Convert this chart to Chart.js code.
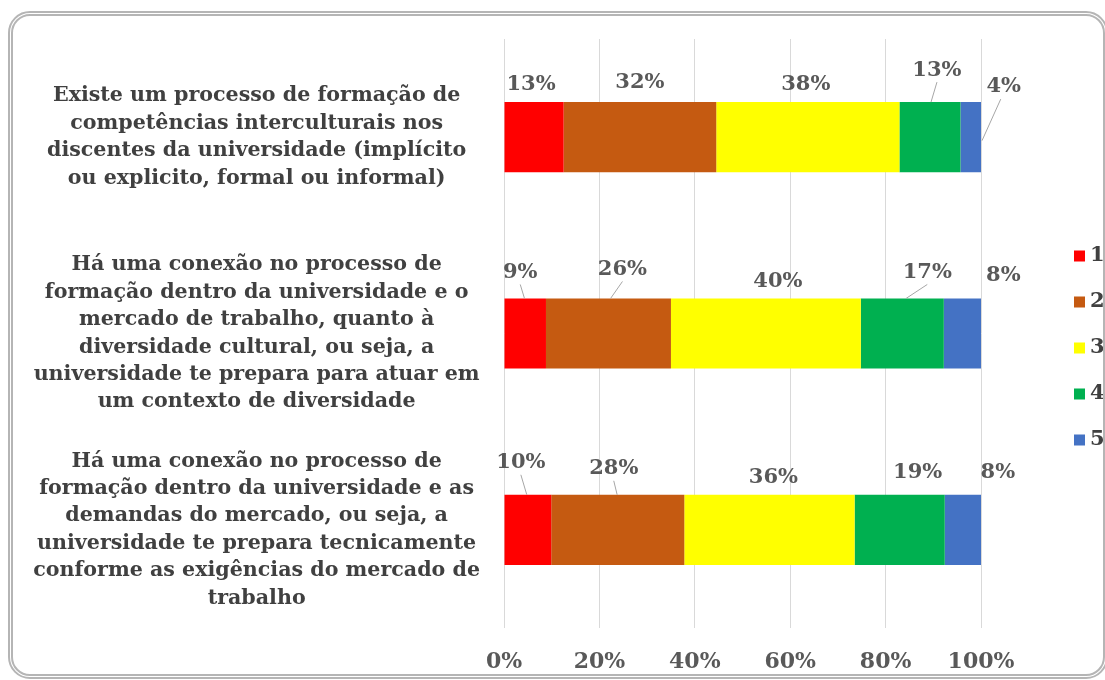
<!DOCTYPE html>
<html>
<head>
<meta charset="utf-8">
<script src="https://cdn.jsdelivr.net/npm/chart.js@4"></script>
<style>
  html, body { margin: 0; padding: 0; background: #fff; overflow: hidden; }
  #wrap { position: relative; width: 1105px; height: 680px; overflow: hidden; }
  #frame {
    position: absolute; left: 8px; top: 11px; width: 1100px; height: 668px;
    box-sizing: border-box; border: 5px double #b5b5b5; border-radius: 22px;
    pointer-events: none;
  }
  canvas { position: absolute; left: 0; top: 0; }
</style>
</head>
<body>
<div id="wrap">
  <canvas id="chart" width="1105" height="680"></canvas>
  <div id="frame"></div>
</div>
<script>
  const categories = [
    ['Existe um processo de formação de', 'competências interculturais nos', 'discentes da universidade (implícito', 'ou explicito, formal ou informal)'],
    ['Há uma conexão no processo de', 'formação dentro da universidade e o', 'mercado de trabalho, quanto à', 'diversidade cultural, ou seja, a', 'universidade te prepara para atuar em', 'um contexto de diversidade'],
    ['Há uma conexão no processo de', 'formação dentro da universidade e as', 'demandas do mercado, ou seja, a', 'universidade te prepara tecnicamente', 'conforme as exigências do mercado de', 'trabalho']
  ];
  const seriesNames = ['1', '2', '3', '4', '5'];
  // percentages per series, one value per category
  const series1 = [12.5, 8.8, 9.9];
  const series2 = [32.0, 26.2, 27.9];
  const series3 = [38.4, 39.8, 35.7];
  const series4 = [12.8, 17.4, 18.9];
  const series5 = [4.3, 7.8, 7.6];
  const xTicks = [0, 20, 40, 60, 80, 100];

  const colors = ['#ff0000', '#c55a11', '#ffff00', '#00b050', '#4472c4'];

  // label placement (hand-tuned like the original): [dx from segment centre, rise above bar top, leader type]
  // leader: 0 none, 1 to bar top, 2 to bar end
  const labelLayout = [
    [[-3, 18, 0], [0, 20, 0], [-2, 18, 0], [7, 32, 1], [33, 16, 2]],
    [[-5, 26, 1], [14, 29, 1], [12, 17, 0], [25, 26, 1], [41, 23, 0]],
    [[-7, 32, 1], [-4, 26, 1], [4, 17, 0], [18, 22, 0], [35, 22, 0]]
  ];

  const font = 'DejaVu Serif';
  const allSeries = [series1, series2, series3, series4, series5];

  const dataLabels = {
    id: 'dataLabels',
    afterDatasetsDraw(chart) {
      const { ctx } = chart;
      ctx.save();
      ctx.font = `bold 21px "${font}"`;
      ctx.textAlign = 'center';
      ctx.textBaseline = 'middle';
      chart.data.datasets.forEach((ds, i) => {
        const meta = chart.getDatasetMeta(i);
        meta.data.forEach((bar, j) => {
          const { x, base, y, height } = bar.getProps(['x', 'base', 'y', 'height'], true);
          const [dx, rise, leader] = labelLayout[j][i];
          const top = y - height / 2;
          const mid = (x + base) / 2;
          const lx = mid + dx;
          const ly = top - rise;
          if (leader) {
            ctx.strokeStyle = '#a6a6a6';
            ctx.lineWidth = 1;
            ctx.beginPath();
            if (leader === 1) {
              ctx.moveTo(lx, ly + 12);
              ctx.lineTo(mid + dx * 0.15, top);
            } else {
              ctx.moveTo(lx - 3, ly + 13);
              ctx.lineTo(x + 1, top + height * 0.55);
            }
            ctx.stroke();
          }
          ctx.fillStyle = '#595959';
          ctx.fillText(`${Math.round(ds.data[j])}%`, lx, ly);
        });
      });
      ctx.restore();
    }
  };

  const sideLegend = {
    id: 'sideLegend',
    afterDraw(chart) {
      const { ctx, chartArea } = chart;
      const step = 46;
      const x0 = chartArea.right + 93;
      const y0 = (chartArea.top + chartArea.bottom) / 2 + 14 - step * 2;
      ctx.save();
      ctx.font = `bold 21px "${font}"`;
      ctx.textBaseline = 'middle';
      ctx.textAlign = 'left';
      chart.data.datasets.forEach((ds, i) => {
        const cy = y0 + i * step;
        ctx.fillStyle = ds.backgroundColor;
        ctx.fillRect(x0, cy - 5, 11, 11);
        ctx.fillStyle = '#404040';
        ctx.fillText(ds.label, x0 + 16, cy);
      });
      ctx.restore();
    }
  };

  new Chart(document.getElementById('chart'), {
    type: 'bar',
    data: {
      labels: categories,
      datasets: allSeries.map((data, i) => ({
        label: seriesNames[i],
        data,
        backgroundColor: colors[i],
        borderWidth: 0,
        categoryPercentage: 1,
        barPercentage: 0.357
      }))
    },
    options: {
      indexAxis: 'y',
      responsive: false,
      animation: false,
      layout: { padding: { left: 0, right: 124, top: 39, bottom: 0 } },
      scales: {
        x: {
          stacked: true,
          min: 0,
          max: 100,
          afterBuildTicks(scale) {
            scale.ticks = xTicks.map((value) => ({ value }));
          },
          afterFit(scale) {
            scale.height = 52;
            scale.paddingLeft = 0;
            scale.paddingRight = 0;
          },
          grid: { color: '#d9d9d9', drawTicks: false },
          border: { display: false },
          ticks: {
            padding: 21,
            color: '#595959',
            font: { family: font, size: 22, weight: 'bold', lineHeight: 1.2 },
            callback: (value) => `${value}%`
          }
        },
        y: {
          stacked: true,
          afterFit(scale) {
            scale.width = 504;
            scale.paddingTop = 0;
            scale.paddingBottom = 0;
          },
          grid: { display: false, drawTicks: false },
          border: { display: false },
          ticks: {
            padding: 24,
            crossAlign: 'center',
            color: '#404040',
            font: { family: font, size: 20.6, weight: 'bold', lineHeight: 1.33 }
          }
        }
      },
      plugins: {
        legend: { display: false },
        tooltip: { enabled: false }
      }
    },
    plugins: [dataLabels, sideLegend]
  });
</script>
</body>
</html>
